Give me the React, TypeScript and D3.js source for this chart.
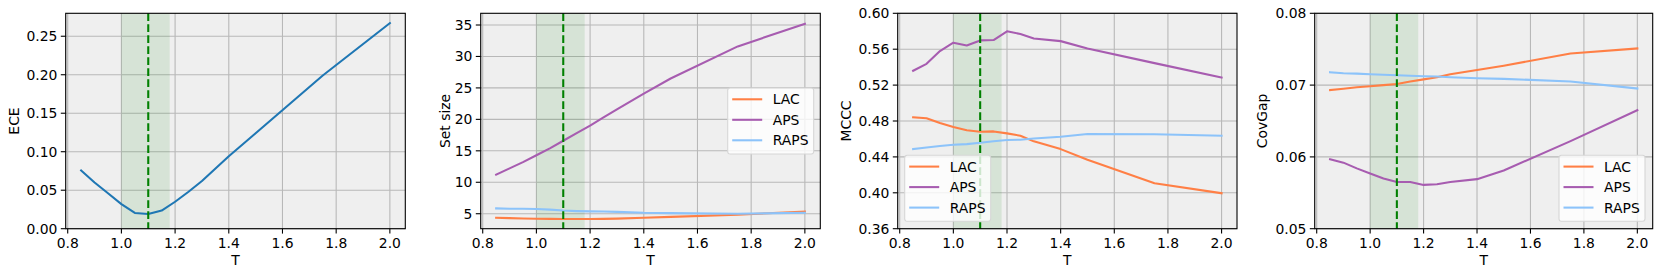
import * as d3 from 'd3';

const temps = [0.85, 0.9, 0.95, 1.0, 1.05, 1.1, 1.15, 1.2, 1.25, 1.3, 1.4, 1.5, 1.75, 2.0];

const eceValues = [0.0757, 0.060, 0.046, 0.032, 0.0205, 0.0192, 0.0235, 0.035, 0.048, 0.062, 0.094, 0.124, 0.199, 0.267];

const setSizeLAC = [4.35, 4.3, 4.25, 4.2, 4.18, 4.15, 4.15, 4.15, 4.18, 4.22, 4.35, 4.5, 4.85, 5.35];
const setSizeAPS = [11.2, 12.2, 13.2, 14.3, 15.4, 16.6, 17.8, 19.0, 20.3, 21.6, 24.1, 26.5, 31.6, 35.2];
const setSizeRAPS = [5.85, 5.8, 5.78, 5.75, 5.65, 5.5, 5.42, 5.38, 5.35, 5.3, 5.15, 5.1, 5.0, 5.15];

const mcccLAC = [0.4841, 0.483, 0.4778, 0.4733, 0.4696, 0.468, 0.4684, 0.4662, 0.4636, 0.4573, 0.4487, 0.4368, 0.4107, 0.3995];
const mcccAPS = [0.536, 0.5437, 0.5579, 0.5672, 0.5642, 0.5698, 0.5702, 0.5799, 0.5769, 0.572, 0.569, 0.5609, 0.5445, 0.5284];
const mcccRAPS = [0.4487, 0.4505, 0.4522, 0.4535, 0.4542, 0.4558, 0.4575, 0.4588, 0.4592, 0.4605, 0.4625, 0.4655, 0.4652, 0.4636];

const covGapLAC = [0.0693, 0.0695, 0.0697, 0.06985, 0.0700, 0.07015, 0.0705, 0.0708, 0.0711, 0.0715, 0.0721, 0.0727, 0.0744, 0.0751];
const covGapAPS = [0.05967, 0.0592, 0.0584, 0.0577, 0.0570, 0.0565, 0.0565, 0.0561, 0.0562, 0.0565, 0.0569, 0.0581, 0.0622, 0.0665];
const covGapRAPS = [0.0718, 0.07166, 0.0716, 0.07152, 0.07145, 0.07138, 0.0713, 0.07124, 0.0712, 0.0711, 0.07096, 0.07087, 0.0705, 0.06952];

const xTicks = [0.8, 1.0, 1.2, 1.4, 1.6, 1.8, 2.0];
const eceTicks = [0, 0.05, 0.1, 0.15, 0.2, 0.25];
const setSizeTicks = [5, 10, 15, 20, 25, 30, 35];
const mcccTicks = [0.36, 0.40, 0.44, 0.48, 0.52, 0.56, 0.60];
const covGapTicks = [0.05, 0.06, 0.07, 0.08];

const methods = ['LAC', 'APS', 'RAPS'];
const methodColors: Record<string, string> = { LAC: '#ff7f45', APS: '#a75cb0', RAPS: '#8cc3fa' };

const bandStart = 1.0;
const bandEnd = 1.18;
const bestT = 1.1;

const FONT = 'DejaVu Sans, sans-serif';
const FS = 13.9;
const TOP = 13.3;
const BOTTOM = 228.7;

type Series = { name: string; values: number[]; color: string };

type PanelProps = {
  left: number;
  right: number;
  yDomain: [number, number];
  yTicks: number[];
  yFormat: (v: number) => string;
  yLabel: string;
  yLabelX: number;
  series: Series[];
  legend?: 'center right' | 'lower left' | 'lower right';
};

function Panel({ left, right, yDomain, yTicks, yFormat, yLabel, yLabelX, series, legend }: PanelProps) {
  const x = d3.scaleLinear().domain([0.7925, 2.0575]).range([left, right]);
  const y = d3.scaleLinear().domain(yDomain).range([BOTTOM, TOP]);
  const line = d3.line<number>().x((_, i) => x(temps[i])).y(d => y(d));

  const legW = 86;
  const legH = 66;
  let legX = 0;
  let legY = 0;
  if (legend === 'center right') {
    legX = right - 6.6 - legW;
    legY = (TOP + BOTTOM) / 2 - legH / 2;
  } else if (legend === 'lower left') {
    legX = left + 7;
    legY = BOTTOM - 7.4 - legH;
  } else if (legend === 'lower right') {
    legX = right - 7.7 - legW;
    legY = BOTTOM - 7.4 - legH;
  }

  return (
    <g>
      <rect x={left} y={TOP} width={right - left} height={BOTTOM - TOP} fill="#efefef" />
      {xTicks.map(t => (
        <line key={'gx' + t} x1={x(t)} x2={x(t)} y1={TOP} y2={BOTTOM} stroke="#b8b8b8" strokeWidth={1.1} />
      ))}
      {yTicks.map(t => (
        <line key={'gy' + t} x1={left} x2={right} y1={y(t)} y2={y(t)} stroke="#b8b8b8" strokeWidth={1.1} />
      ))}
      <rect x={x(bandStart)} y={TOP} width={x(bandEnd) - x(bandStart)} height={BOTTOM - TOP} fill="green" fillOpacity={0.1} />
      {series.map(s => (
        <path key={s.name} d={line(s.values) || ''} fill="none" stroke={s.color} strokeWidth={2.08} strokeLinejoin="round" strokeLinecap="square" />
      ))}
      <line x1={x(bestT)} x2={x(bestT)} y1={TOP} y2={BOTTOM} stroke="#008000" strokeWidth={2.08} strokeDasharray="7.7,3.3" />
      <rect x={left} y={TOP} width={right - left} height={BOTTOM - TOP} fill="none" stroke="#000" strokeWidth={1.1} />
      {xTicks.map(t => (
        <g key={'tx' + t}>
          <line x1={x(t)} x2={x(t)} y1={BOTTOM} y2={BOTTOM + 4.9} stroke="#000" strokeWidth={1.1} />
          <text x={x(t)} y={BOTTOM + 19} textAnchor="middle" fontSize={FS} fontFamily={FONT} fill="#000">
            {t.toFixed(1)}
          </text>
        </g>
      ))}
      {yTicks.map(t => (
        <g key={'ty' + t}>
          <line x1={left - 4.9} x2={left} y1={y(t)} y2={y(t)} stroke="#000" strokeWidth={1.1} />
          <text x={left - 8.3} y={y(t) + 5} textAnchor="end" fontSize={FS} fontFamily={FONT} fill="#000">
            {yFormat(t)}
          </text>
        </g>
      ))}
      <text x={(left + right) / 2} y={265} textAnchor="middle" fontSize={FS} fontFamily={FONT} fill="#000">T</text>
      <text
        transform={`translate(${yLabelX},${(TOP + BOTTOM) / 2}) rotate(-90)`}
        textAnchor="middle"
        dy="0.35em"
        fontSize={FS}
        fontFamily={FONT}
        fill="#000"
      >
        {yLabel}
      </text>
      {legend && (
        <g transform={`translate(${legX},${legY})`}>
          <rect x={0} y={0} width={legW} height={legH} rx={2.5} fill="#ffffff" fillOpacity={0.8} stroke="#d6d6d6" strokeWidth={1.1} />
          {series.map((s, i) => (
            <g key={'lg' + s.name}>
              <line x1={4.5} x2={34.5} y1={11.3 + i * 20.5} y2={11.3 + i * 20.5} stroke={s.color} strokeWidth={2.08} />
              <text x={45} y={11.3 + i * 20.5 + 5} fontSize={FS} fontFamily={FONT} fill="#000">{s.name}</text>
            </g>
          ))}
        </g>
      )}
    </g>
  );
}

export default function App() {
  const f2 = (v: number) => v.toFixed(2);
  const f0 = (v: number) => String(v);
  const mk = (vals: number[][]) => methods.map((m, i) => ({ name: m, values: vals[i], color: methodColors[m] }));

  return (
    <svg
      width={1661}
      height={277}
      style={{ position: 'absolute', left: 0, top: 0, background: '#fff' }}
    >
      <rect width={1661} height={277} fill="#fff" />
      <Panel
        left={65.7}
        right={405.3}
        yDomain={[0, 0.2798]}
        yTicks={eceTicks}
        yFormat={f2}
        yLabel="ECE"
        yLabelX={14}
        series={[{ name: 'ECE', values: eceValues, color: '#1f77b4' }]}
      />
      <Panel
        left={480.7}
        right={820.3}
        yDomain={[2.62, 36.86]}
        yTicks={setSizeTicks}
        yFormat={f0}
        yLabel="Set size"
        yLabelX={445}
        series={mk([setSizeLAC, setSizeAPS, setSizeRAPS])}
        legend="center right"
      />
      <Panel
        left={897.7}
        right={1237}
        yDomain={[0.36, 0.60]}
        yTicks={mcccTicks}
        yFormat={f2}
        yLabel="MCCC"
        yLabelX={846}
        series={mk([mcccLAC, mcccAPS, mcccRAPS])}
        legend="lower left"
      />
      <Panel
        left={1314.7}
        right={1652.7}
        yDomain={[0.05, 0.08]}
        yTicks={covGapTicks}
        yFormat={f2}
        yLabel="CovGap"
        yLabelX={1261.7}
        series={mk([covGapLAC, covGapAPS, covGapRAPS])}
        legend="lower right"
      />
    </svg>
  );
}
